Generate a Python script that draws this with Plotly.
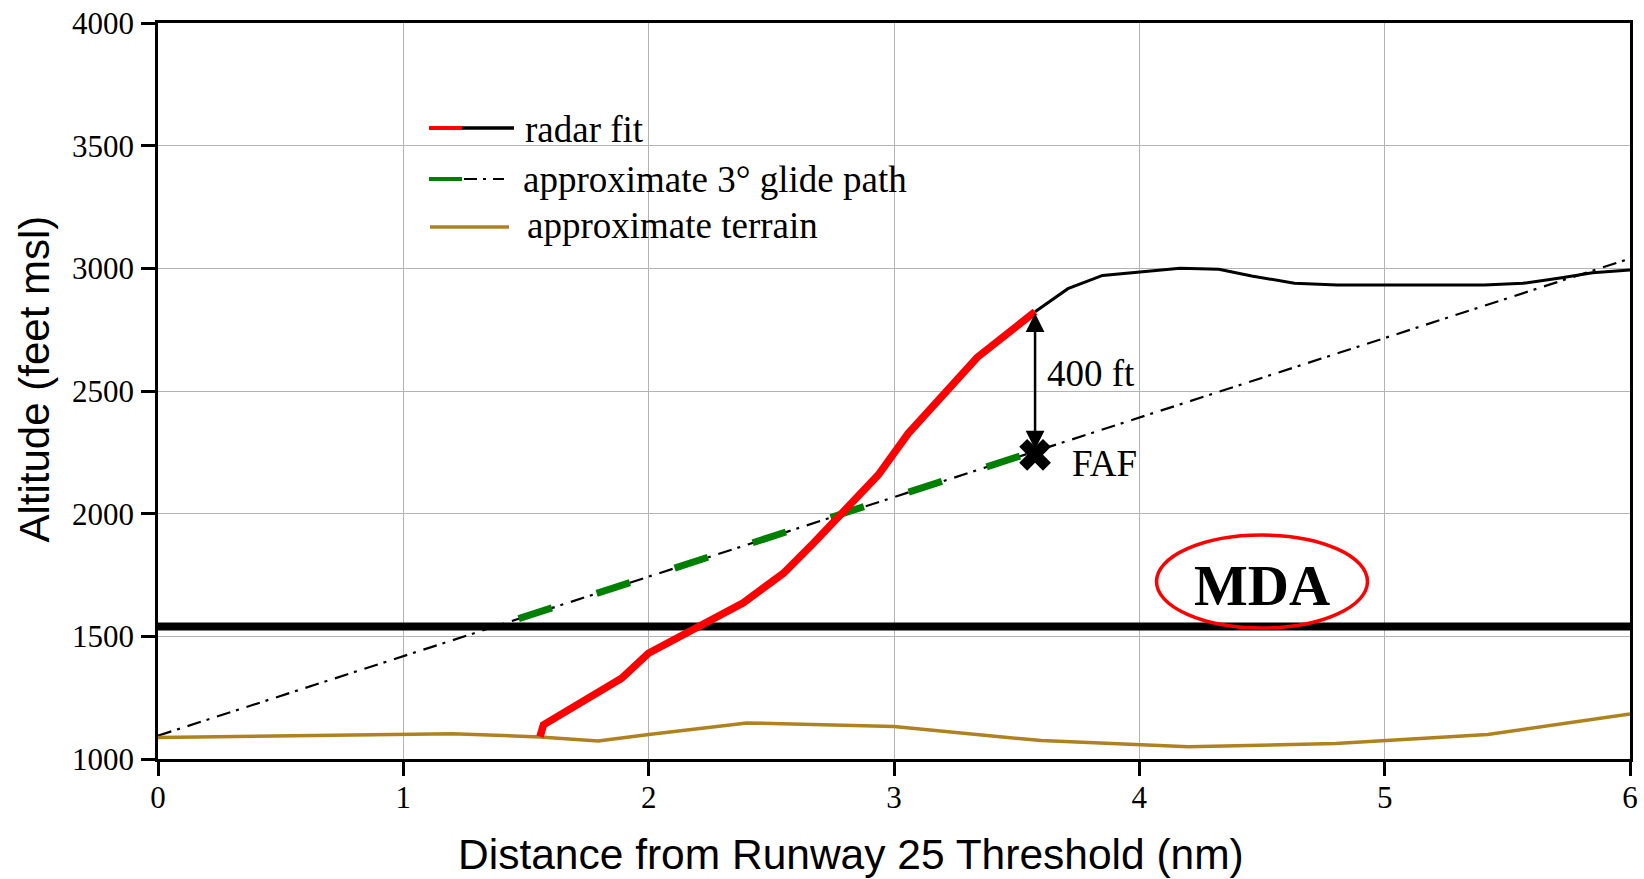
import plotly.graph_objects as go

# ---------------- data ----------------
radar_red_x = [1.557, 1.571, 1.890, 1.999, 2.386, 2.549, 2.671, 2.936, 3.058, 3.339, 3.575]
radar_red_y = [1091, 1139, 1329, 1431, 1637, 1757, 1879, 2158, 2327, 2637, 2823]

radar_black_x = [3.575, 3.709, 3.850, 4.0, 4.166, 4.324, 4.458, 4.632, 4.807, 5.406, 5.564, 5.722, 5.847, 6.0]
radar_black_y = [2823, 2917, 2971, 2985, 3000, 2996, 2969, 2939, 2932, 2932, 2939, 2962, 2982, 2993]

terrain_x = [0, 0.6, 1.2, 1.557, 1.794, 2.0, 2.40, 3.0, 3.6, 4.2, 4.8, 5.42, 6.0]
terrain_y = [1088, 1096, 1103, 1090, 1073, 1100, 1147, 1132, 1075, 1050, 1063, 1100, 1184]

glide_x = [0, 6]
glide_y = [1095, 3040]

green_x = [1.47, 3.56]
green_y = [1572, 2250]

mda_x = [0, 6]
mda_y = [1540, 1540]

faf_x = [3.575]
faf_y = [2240]

arrow_top = 2823
arrow_bottom = 2262

x_ticks = [0, 1, 2, 3, 4, 5, 6]
y_ticks = [1000, 1500, 2000, 2500, 3000, 3500, 4000]

# ---------------- styling ----------------
W, H = 1644, 879
PL, PT, PWD, PHT = 158, 23, 1472, 736     # plot area in page pixels
L, T = PL, PT
R = W - L - PWD
B = H - T - PHT

def px(x):
    return (x - PL) / PWD

def py(y):
    return (PT + PHT - y) / PHT

SERIF = "Liberation Serif, Times New Roman, serif"
SANS = "Liberation Sans, Arial, sans-serif"
RED = "#ff0000"
GREEN = "#008000"
BROWN = "#b0821f"
GRID = "#b4b4b4"

fig = go.Figure()

fig.add_trace(go.Scatter(x=glide_x, y=glide_y, mode="lines",
                         line=dict(color="black", width=2.2, dash="14px,6px,3px,8px"),
                         showlegend=False, hoverinfo="skip"))
fig.add_trace(go.Scatter(x=green_x, y=green_y, mode="lines",
                         line=dict(color=GREEN, width=7, dash="35px,47px"),
                         showlegend=False, hoverinfo="skip"))
fig.add_trace(go.Scatter(x=terrain_x, y=terrain_y, mode="lines",
                         line=dict(color=BROWN, width=3.5),
                         showlegend=False, hoverinfo="skip"))
fig.add_trace(go.Scatter(x=mda_x, y=mda_y, mode="lines",
                         line=dict(color="black", width=8),
                         showlegend=False, hoverinfo="skip"))
fig.add_trace(go.Scatter(x=radar_black_x, y=radar_black_y, mode="lines",
                         line=dict(color="black", width=3),
                         showlegend=False, hoverinfo="skip"))
fig.add_trace(go.Scatter(x=radar_red_x, y=radar_red_y, mode="lines",
                         line=dict(color=RED, width=7.5),
                         showlegend=False, hoverinfo="skip"))
fig.add_trace(go.Scatter(x=faf_x, y=faf_y, mode="markers",
                         marker=dict(symbol="x", size=28, color="black", line=dict(width=0)),
                         showlegend=False, hoverinfo="skip"))

shapes = []
# legend white background
shapes.append(dict(type="rect", xref="paper", yref="paper",
                   x0=px(502), x1=px(934), y0=py(210), y1=py(146),
                   fillcolor="white", line=dict(width=0), layer="between"))
# legend lines
shapes.append(dict(type="line", xref="paper", yref="paper", x0=px(429), x1=px(462),
                   y0=py(128), y1=py(128), line=dict(color=RED, width=4)))
shapes.append(dict(type="line", xref="paper", yref="paper", x0=px(462), x1=px(514),
                   y0=py(128), y1=py(128), line=dict(color="black", width=3.5)))
shapes.append(dict(type="line", xref="paper", yref="paper", x0=px(429), x1=px(462),
                   y0=py(179), y1=py(179), line=dict(color=GREEN, width=4)))
shapes.append(dict(type="line", xref="paper", yref="paper", x0=px(464), x1=px(504),
                   y0=py(179), y1=py(179), line=dict(color="black", width=2, dash="13px,6px,3px,7px")))
shapes.append(dict(type="line", xref="paper", yref="paper", x0=px(430), x1=px(509),
                   y0=py(227), y1=py(227), line=dict(color=BROWN, width=3.5)))
# MDA ellipse
shapes.append(dict(type="circle", xref="x", yref="y", x0=4.07, x1=4.93, y0=1534, y1=1913,
                   line=dict(color=RED, width=3.5), fillcolor="rgba(0,0,0,0)"))

annotations = []
legend_items = [("radar fit", 523, 129), ("approximate 3° glide path", 521, 180),
                ("approximate terrain", 525, 225)]
for txt, lx, ly in legend_items:
    annotations.append(dict(text=txt, xref="paper", yref="paper", x=px(lx), y=py(ly),
                            xanchor="left", yanchor="middle", showarrow=False,
                            font=dict(family=SERIF, size=37, color="black")))

# 400 ft arrow
annotations.append(dict(x=faf_x[0], y=arrow_bottom, ax=faf_x[0], ay=arrow_top,
                        xref="x", yref="y", axref="x", ayref="y", text="",
                        showarrow=True, arrowhead=2, arrowside="end+start",
                        arrowsize=1.5, arrowwidth=2.5, arrowcolor="black",
                        standoff=0, startstandoff=0))
annotations.append(dict(text="400 ft", x=3.616, y=2573, xref="x", yref="y",
                        xanchor="left", yanchor="middle", showarrow=False,
                        font=dict(family=SERIF, size=37, color="black")))
annotations.append(dict(text="FAF", x=3.717, y=2206, xref="x", yref="y",
                        xanchor="left", yanchor="middle", showarrow=False,
                        font=dict(family=SERIF, size=37, color="black")))
annotations.append(dict(text="<b>MDA</b>", x=4.5, y=1709, xref="x", yref="y",
                        xanchor="center", yanchor="middle", showarrow=False,
                        font=dict(family=SERIF, size=57, color="black")))
# axis titles
annotations.append(dict(text="Distance from Runway 25 Threshold (nm)", xref="paper", yref="paper",
                        x=px(851), y=py(854), xanchor="center", yanchor="middle", showarrow=False,
                        font=dict(family=SANS, size=42.5, color="black")))
annotations.append(dict(text="Altitude (feet msl)", xref="paper", yref="paper",
                        x=px(33.5), y=py(379), xanchor="center", yanchor="middle", showarrow=False,
                        textangle=-90, font=dict(family=SANS, size=42, color="black")))

axis_common = dict(showgrid=True, gridcolor=GRID, gridwidth=1, showline=True,
                   linecolor="black", linewidth=2.5, mirror=True, ticks="outside",
                   ticklen=14, tickwidth=2.5, tickcolor="black", zeroline=False,
                   automargin=False,
                   tickfont=dict(family=SERIF, size=31, color="black"))

fig.update_layout(
    width=W, height=H,
    margin=dict(l=L, r=R, t=T, b=B, pad=0, autoexpand=False),
    paper_bgcolor="white", plot_bgcolor="white",
    xaxis=dict(range=[0, 6], tickvals=x_ticks, ticklabelstandoff=-5, **axis_common),
    yaxis=dict(range=[1000, 4000], tickvals=y_ticks, ticklabelstandoff=1, **axis_common),
    shapes=shapes, annotations=annotations, showlegend=False,
)

fig.write_html("out.html", config={"displayModeBar": False},
               post_script="document.body.style.margin='0';document.body.style.overflow='hidden';")
